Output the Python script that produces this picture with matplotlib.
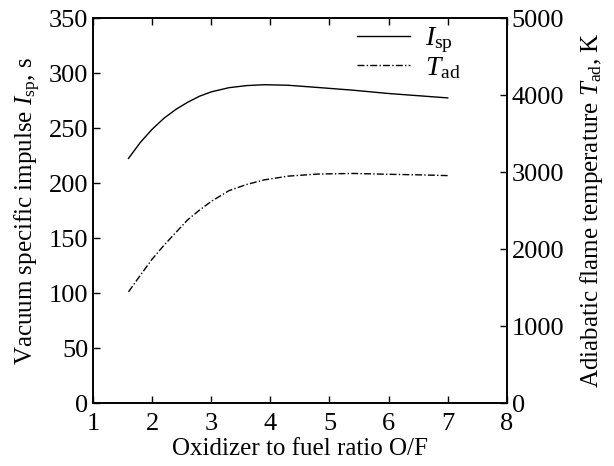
import matplotlib
matplotlib.use("Agg")
import matplotlib.pyplot as plt

plt.rcParams['font.family'] = ['Liberation Serif', 'DejaVu Serif']
plt.rcParams['mathtext.fontset'] = 'custom'
plt.rcParams['mathtext.rm'] = 'Liberation Serif'
plt.rcParams['mathtext.it'] = 'Liberation Serif:italic'
plt.rcParams['mathtext.bf'] = 'Liberation Serif:bold'

of_ratio = [1.6, 1.8, 2.0, 2.2, 2.4, 2.6, 2.8, 3.0, 3.3, 3.6, 3.9, 4.3, 4.8, 5.4, 6.0, 6.5, 7.0]
isp = [222.5, 237, 249, 259, 267, 273.5, 279, 283, 286.8, 288.7, 289.5, 289, 287, 284.5, 281.5, 279.5, 277.5]
t_ad = [1445, 1660, 1870, 2050, 2215, 2380, 2506, 2620, 2760, 2840, 2900, 2948, 2975, 2983, 2972, 2965, 2955]

fig = plt.figure(figsize=(6.14, 4.66), dpi=100)
ax = fig.add_axes([0.1515, 0.135, 0.674, 0.826])
ax2 = ax.twinx()

l1, = ax.plot(of_ratio, isp, color='black', lw=1.0, label=r'$I_{\rm sp}$')
l2, = ax2.plot(of_ratio, t_ad, color='black', lw=1.0, linestyle=(0, (5, 1.6, 1, 1.6)), label=r'$T_{\rm ad}$')

ax.set_xlim(1, 8)
ax.set_ylim(0, 350)
ax2.set_ylim(0, 5000)
ax.set_xticks(range(1, 9))
ax.set_yticks(range(0, 351, 50))
ax2.set_yticks(range(0, 5001, 1000))

ax.tick_params(axis='both', direction='in', labelsize=19, top=True, length=5, width=1)
ax.tick_params(axis='x', pad=7)
ax2.tick_params(axis='y', direction='in', labelsize=19, length=5, width=1)
for a in (ax, ax2):
    for s in a.spines.values():
        s.set_linewidth(1.2)

ax.set_xlabel('Oxidizer to fuel ratio O/F', fontsize=18, labelpad=2)
ax.set_ylabel(r'Vacuum specific impulse $I_{\rm sp}$, s', fontsize=18, labelpad=4)
ax2.set_ylabel(r'Adiabatic flame temperature $T_{\rm ad}$, K', fontsize=18, labelpad=10)

leg = ax.legend(handles=[l1, l2], loc='upper right', bbox_to_anchor=(0.915, 1.01),
                frameon=False, fontsize=20, handlelength=1.9, handletextpad=0.55,
                labelspacing=0.0, borderaxespad=0.0)

fig.savefig('out.png', dpi=100)
